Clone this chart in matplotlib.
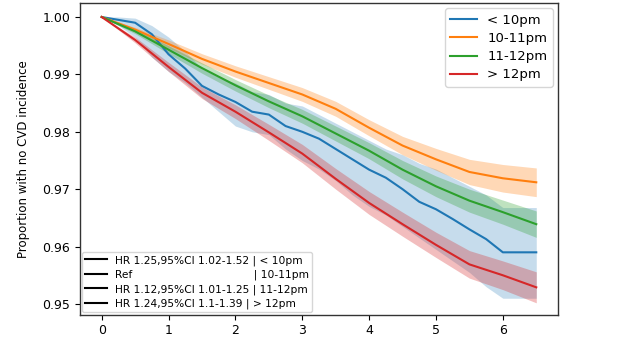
import numpy as np
import matplotlib
matplotlib.use("Agg")
import matplotlib.pyplot as plt
from matplotlib.lines import Line2D

# ---------------- data ----------------
t_coarse = [0, 0.5, 1, 1.5, 2, 2.5, 3, 3.5, 4, 4.5, 5, 5.5, 6, 6.5]

orange = [1.0, 0.9978, 0.9953, 0.9927, 0.9905, 0.9885, 0.9865, 0.9840, 0.9807, 0.9776, 0.9752, 0.9730, 0.9719, 0.9712]
orange_hw = [0, 0.0004, 0.0007, 0.0009, 0.0010, 0.0011, 0.0012, 0.0013, 0.0014, 0.0016, 0.0019, 0.0022, 0.0024, 0.0025]

green = [1.0, 0.9975, 0.9943, 0.9911, 0.9881, 0.9853, 0.9827, 0.9797, 0.9767, 0.9734, 0.9705, 0.9680, 0.9660, 0.9639]
green_hw = [0, 0.0004, 0.0007, 0.0009, 0.0010, 0.0011, 0.0012, 0.0013, 0.0014, 0.0016, 0.0018, 0.0020, 0.0021, 0.0023]

red = [1.0, 0.9960, 0.9913, 0.9868, 0.9835, 0.9799, 0.9762, 0.9718, 0.9676, 0.9639, 0.9603, 0.9569, 0.9550, 0.9529]
red_hw = [0, 0.0005, 0.0008, 0.0010, 0.0012, 0.0014, 0.0016, 0.0018, 0.0020, 0.0021, 0.0022, 0.0024, 0.0025, 0.0027]

t_fine = [0, 0.25, 0.5, 0.75, 1.0, 1.25, 1.5, 1.75, 2.0, 2.25, 2.5, 2.75, 3.0, 3.25,
          3.5, 3.75, 4.0, 4.25, 4.5, 4.75, 5.0, 5.25, 5.5, 5.75, 6.0, 6.5]
blue = [1.0, 0.9995, 0.9990, 0.9970, 0.9935, 0.9910, 0.9880, 0.9865, 0.9852, 0.9835, 0.9830, 0.9810, 0.9800, 0.9788,
        0.9770, 0.9752, 0.9734, 0.9720, 0.9700, 0.9678, 0.9665, 0.9648, 0.9630, 0.9613, 0.9590, 0.9590]
blue_lo = [1.0, 0.9985, 0.9965, 0.9930, 0.9905, 0.9885, 0.9860, 0.9835, 0.9810, 0.9800, 0.9795, 0.9770, 0.9750, 0.9735,
           0.9715, 0.9690, 0.9670, 0.9655, 0.9635, 0.9615, 0.9595, 0.9575, 0.9555, 0.9530, 0.9510, 0.9510]
blue_hi = [1.0, 1.0, 0.9998, 0.9985, 0.9965, 0.9940, 0.9910, 0.9895, 0.9885, 0.9870, 0.9865, 0.9850, 0.9845, 0.9830,
           0.9815, 0.9800, 0.9785, 0.9770, 0.9760, 0.9745, 0.9735, 0.9720, 0.9705, 0.9690, 0.9668, 0.9668]

labels = ["< 10pm", "10-11pm", "11-12pm", "> 12pm"]
hr_labels = ["HR 1.25,95%CI 1.02-1.52 | < 10pm",
             "Ref                                    | 10-11pm",
             "HR 1.12,95%CI 1.01-1.25 | 11-12pm",
             "HR 1.24,95%CI 1.1-1.39 | > 12pm"]
colors = ["#1f77b4", "#ff7f0e", "#2ca02c", "#d62728"]
yticks = [0.95, 0.96, 0.97, 0.98, 0.99, 1.00]
xticks = [0, 1, 2, 3, 4, 5, 6]

# ---------------- plot ----------------
fig = plt.figure(figsize=(6.2, 3.39), dpi=100)
ax = fig.add_axes([0.129, 0.072, 0.771, 0.919])

tc = np.array(t_coarse)
tf = np.array(t_fine)

ax.fill_between(tf, blue_lo, blue_hi, color=colors[0], alpha=0.25, lw=0)
l0, = ax.plot(tf, blue, color=colors[0], lw=1.5)

series = [(orange, orange_hw), (green, green_hw), (red, red_hw)]
lines = [l0]
for (vals, hw), c in zip(series, colors[1:]):
    v = np.array(vals); h = np.array(hw)
    ax.fill_between(tc, v - h, v + h, color=c, alpha=0.3, lw=0)
    ln, = ax.plot(tc, v, color=c, lw=1.5)
    lines.append(ln)

ax.set_xlim(-0.325, 6.825)
ax.set_ylim(0.94815, 1.00243)
ax.set_yticks(yticks)
ax.set_yticklabels([f"{v:.2f}" for v in yticks])
ax.set_xticks(xticks)
ax.tick_params(labelsize=9)
ax.tick_params(axis="x", pad=3)
ax.set_ylabel("Proportion with no CVD incidence", fontsize=8.5)
ax.yaxis.set_label_coords(-0.105, 0.5)
for s in ax.spines.values():
    s.set_color("#333333")
    s.set_linewidth(1.0)

leg1 = ax.legend(lines, labels, loc="upper right", fontsize=9.5,
                 labelspacing=0.4, handlelength=2.0, borderaxespad=0.4)
ax.add_artist(leg1)

handles2 = [Line2D([], [], color="black", lw=1.5) for _ in hr_labels]
ax.legend(handles2, hr_labels, loc="lower left", fontsize=7.7,
          labelspacing=0.38, handlelength=2.0, borderaxespad=0.2,
          borderpad=0.3)

fig.savefig("out.png", dpi=100)
